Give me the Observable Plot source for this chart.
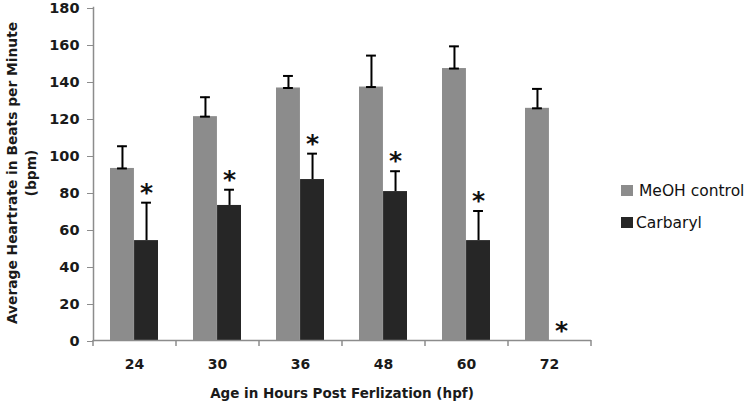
<!DOCTYPE html>
<html><head><meta charset="utf-8">
<script src="https://cdn.jsdelivr.net/npm/d3@7"></script>
<script src="https://cdn.jsdelivr.net/npm/@observablehq/plot@0.6"></script>
<style>body{margin:0;background:#fff}#chart svg{display:block}</style>
</head><body><div id="chart"></div>
<script>
// ---- data ----
const ages = ["24", "30", "36", "48", "60", "72"];
const seriesNames = ["MeOH control", "Carbaryl"];
const meoh = [93, 121, 136.5, 137, 147, 125.5];
const meohErr = [12, 10.5, 6.5, 17, 12, 10.5];
const carbaryl = [54, 73, 87, 80.5, 54, 0];
const carbarylErr = [20.5, 8.5, 14, 11, 16, 0];
const carbarylSignificant = [true, true, true, true, true, true];
const yTicks = [0, 20, 40, 60, 80, 100, 120, 140, 160, 180];
const yLabel = ["Average Heartrate in Beats per Minute", "(bpm)"];
const xLabel = "Age in Hours Post Ferlization (hpf)";

// ---- style ----
const colors = ["#8c8c8c", "#262626"];
const axisColor = "#8c8c8c";
const FONT = "DejaVu Sans";
const W = 750, H = 404, ML = 93, MR = 159, MT = 7, MB = 64;
const PAD = 0.42;
const step = (W - ML - MR) / ages.length;
const bw = step * (1 - PAD);
const half = bw / 2;
const capW = 10;
const pxPerUnit = (H - MT - MB) / 180;

const rows0 = ages.map((a, i) => ({age: a, value: meoh[i], err: meohErr[i]}));
const rows1 = ages.map((a, i) => ({age: a, value: carbaryl[i], err: carbarylErr[i], sig: carbarylSignificant[i]}));

const plot = Plot.plot({
  width: W, height: H,
  marginLeft: ML, marginRight: MR, marginTop: MT, marginBottom: MB,
  style: {fontFamily: FONT, color: "#1a1a1a", background: "#fff"},
  x: {domain: ages, paddingInner: PAD, paddingOuter: PAD / 2, label: null},
  y: {domain: [0, 180], label: null},
  marks: [
    Plot.barY(rows0, {x: "age", y: "value", fill: colors[0], insetRight: half}),
    Plot.barY(rows1, {x: "age", y: "value", fill: colors[1], insetLeft: half}),
    // error bars (upper only)
    Plot.ruleX(rows0, {x: "age", y1: "value", y2: d => d.value + d.err, dx: -half / 2, stroke: "#000", strokeWidth: 2}),
    Plot.ruleX(rows1.filter(d => d.err > 0), {x: "age", y1: "value", y2: d => d.value + d.err, dx: half / 2, stroke: "#000", strokeWidth: 2}),
    Plot.tickY(rows0, {x: "age", y: d => d.value + d.err, insetLeft: half / 2 - capW / 2, insetRight: half + half / 2 - capW / 2, stroke: "#000", strokeWidth: 2}),
    Plot.tickY(rows0, {x: "age", y: "value", insetLeft: half / 2 - capW / 2, insetRight: half + half / 2 - capW / 2, stroke: "#000", strokeWidth: 2}),
    Plot.tickY(rows1.filter(d => d.err > 0), {x: "age", y: d => d.value + d.err, insetLeft: half + half / 2 - capW / 2, insetRight: half / 2 - capW / 2, stroke: "#000", strokeWidth: 2}),
    // significance asterisks
    Plot.text(rows1.filter(d => d.sig), {x: "age", y: d => d.value + d.err, dx: half / 2, dy: -2, text: () => "*", fontSize: 25, fontWeight: "bold", fill: "#111", lineAnchor: "bottom", fontFamily: "DejaVu Sans"}),
    // axes
    Plot.ruleY([0], {stroke: axisColor, strokeWidth: 1.5}),
    Plot.ruleX(ages, {x: d => d, y1: 0, y2: -6 / pxPerUnit, dx: -step / 2, stroke: axisColor, strokeWidth: 1.5}),
    Plot.ruleX([ages[ages.length - 1]], {x: d => d, y1: 0, y2: -6 / pxPerUnit, dx: step / 2, stroke: axisColor, strokeWidth: 1.5}),
    Plot.frame({anchor: "left", stroke: axisColor, strokeWidth: 1.5}),
    Plot.axisY({ticks: yTicks, tickSize: 6, tickPadding: 8, stroke: axisColor, fontSize: 14.5, fontWeight: "bold", label: null, dy: 1}),
    Plot.axisX({tickSize: 0, tickPadding: 19, fontSize: 14, fontWeight: "bold", label: null})
  ]
});

const svg = d3.select(plot);
// y-axis title (two lines)
[[17, yLabel[0]], [36, yLabel[1]]].forEach(([x, t]) => {
  svg.append("text").attr("transform", `translate(${x},173) rotate(-90)`)
    .attr("text-anchor", "middle").attr("font-family", FONT).attr("font-size", 13.8)
    .attr("font-weight", "bold").attr("fill", "#1a1a1a").text(t);
});
// x-axis title
svg.append("text").attr("x", ML + (W - ML - MR) / 2).attr("y", 398)
  .attr("text-anchor", "middle").attr("font-family", FONT).attr("font-size", 13.5)
  .attr("font-weight", "bold").attr("fill", "#1a1a1a").text(xLabel);
// legend
const leg = svg.append("g").attr("transform", "translate(621,185)");
seriesNames.forEach((name, i) => {
  const g = leg.append("g").attr("transform", `translate(0,${i * 32})`);
  g.append("rect").attr("width", 12).attr("height", 11).attr("fill", colors[i]);
  g.append("text").attr("x", i === 0 ? 18 : 15).attr("y", 5.5).attr("dy", "0.35em")
    .attr("text-anchor", "start")
    .attr("font-family", FONT).attr("font-size", 15.5).attr("fill", "#111").text(name);
});
document.getElementById("chart").appendChild(plot);
</script>
</body></html>
